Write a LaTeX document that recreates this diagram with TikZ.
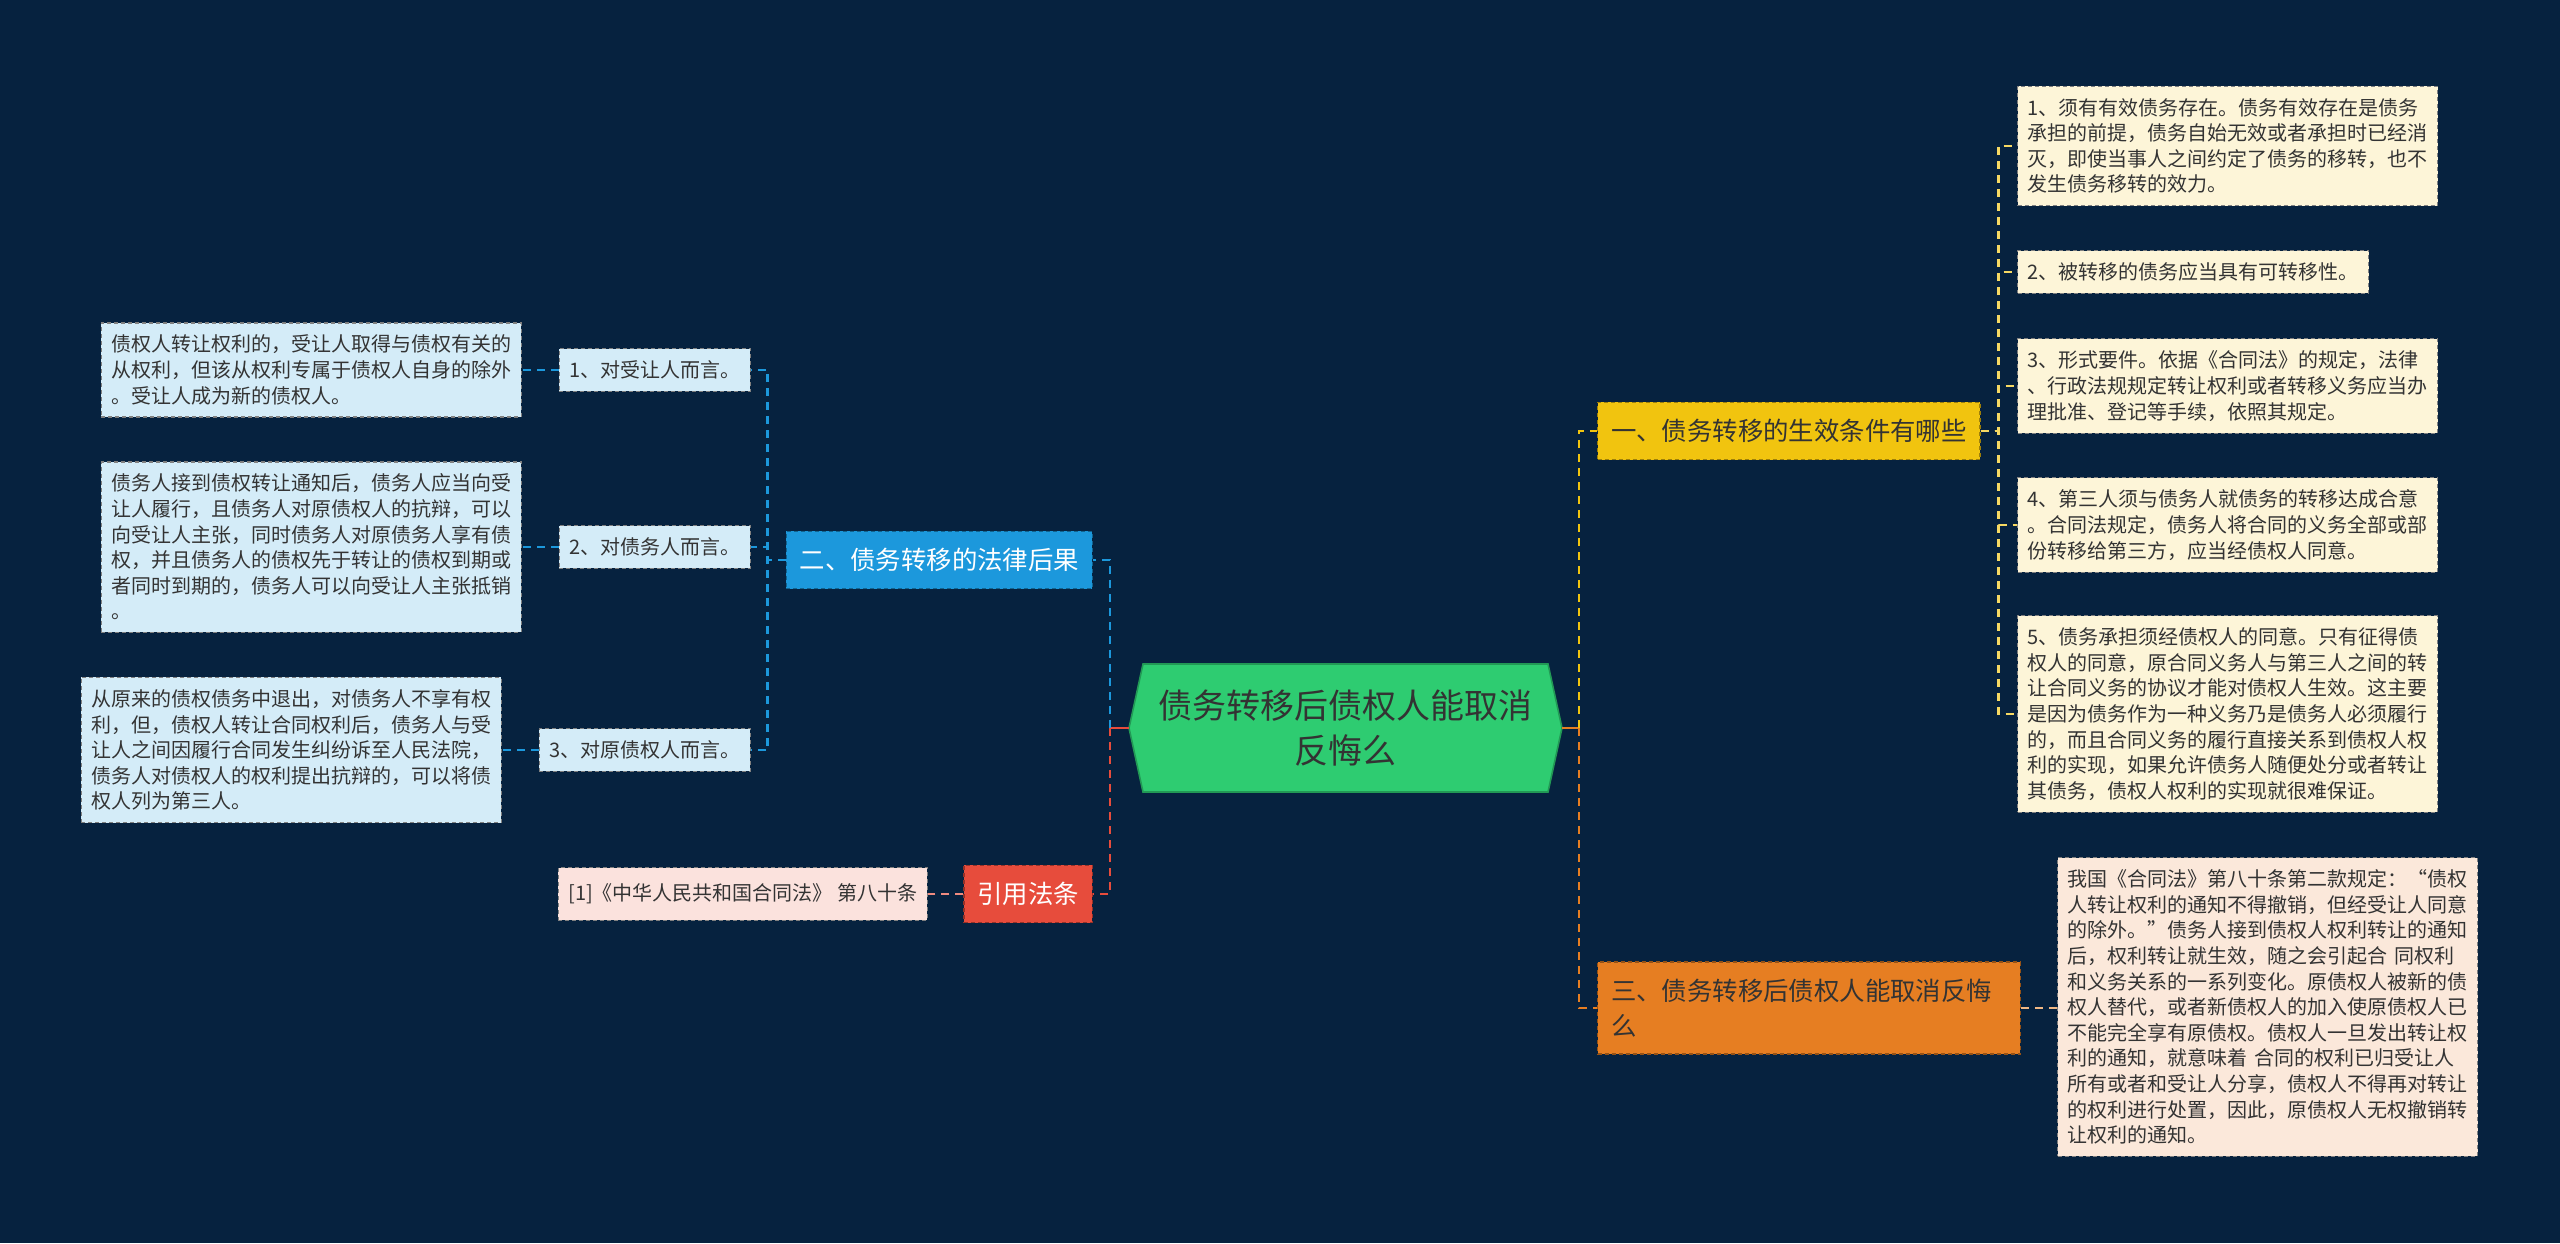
\documentclass[tikz,border=0pt]{standalone}
\usepackage{fontspec}
\setmainfont{Noto Sans CJK SC}
\usepackage{xcolor}
\usepackage{tikz}
\definecolor{mapBg}{HTML}{06223F}
\definecolor{mapHub}{HTML}{2ECC71}
\definecolor{mapYel}{HTML}{F1C40F}
\definecolor{mapOrg}{HTML}{E67E22}
\definecolor{mapBlu}{HTML}{1C98DC}
\definecolor{mapRed}{HTML}{E74C3C}
\definecolor{leafYel}{HTML}{FDF5D8}
\definecolor{leafOrg}{HTML}{FBE8DA}
\definecolor{leafBlu}{HTML}{D4ECF8}
\definecolor{leafRed}{HTML}{FBE2DD}

\begin{document}
\begin{tikzpicture}[x=0.5pt, y=-0.5pt,
    kbox/.style={rectangle, draw=#1!65!black, fill=#1, dash pattern=on 2pt off 1.5pt, line width=0.6pt,
      inner xsep=6.7pt, inner ysep=8.4pt, font=\fontsize{12.7}{17.5}\selectfont, align=left},
    leaf/.style={rectangle, draw=black!50, fill=#1, dash pattern=on 2pt off 1.5pt, line width=0.6pt,
      inner xsep=5pt, inner ysep=6pt, font=\fontsize{10}{12.8}\selectfont, text=black!80, align=left},
    note/.style={leaf=#1, text width=200pt},
    link/.style={dash pattern=on 4pt off 3pt, line width=1.2pt}
  ]
  \fill[mapBg] (0,0) rectangle (2560,1243);
  \useasboundingbox (0,0) rectangle (2560,1243);

  \fill[mapHub, draw=mapHub!75!black, line width=0.8pt] (1129,728) -- (1143,664) -- (1548,664) -- (1562,728)
    -- (1548,792) -- (1143,792) -- cycle;
  \node[minimum width=216.5pt, minimum height=64pt, inner sep=0pt, align=center, text=black!80,
    font=\fontsize{17}{22.5}\selectfont] (hub) at (1345.5,728) {债务转移后债权人能取消\\反悔么};

  \node[kbox=mapYel, text=black!80, anchor=west] (k1) at (1597,431) {一、债务转移的生效条件有哪些};
  \node[kbox=mapOrg, text=black!80, text width=198pt, anchor=west] (k3) at (1597,1008) {三、债务转移后债权人能取消反悔\\么};
  \node[kbox=mapBlu, text=white, anchor=east] (k2) at (1093,560) {二、债务转移的法律后果};
  \node[kbox=mapRed, text=white, anchor=east] (k4) at (1093,894) {引用法条};

  \node[note=leafYel, anchor=west] (r1) at (2017,146) {1、须有有效债务存在。债务有效存在是债务\\承担的前提，债务自始无效或者承担时已经消\\灭，即使当事人之间约定了债务的移转，也不\\发生债务移转的效力。};
  \node[leaf=leafYel, anchor=west] (r2) at (2017,272) {2、被转移的债务应当具有可转移性。};
  \node[note=leafYel, anchor=west] (r3) at (2017,386) {3、形式要件。依据《合同法》的规定，法律\\、行政法规规定转让权利或者转移义务应当办\\理批准、登记等手续，依照其规定。};
  \node[note=leafYel, anchor=west] (r4) at (2017,525) {4、第三人须与债务人就债务的转移达成合意\\。合同法规定，债务人将合同的义务全部或部\\份转移给第三方，应当经债权人同意。};
  \node[note=leafYel, anchor=west] (r5) at (2017,714) {5、债务承担须经债权人的同意。只有征得债\\权人的同意，原合同义务人与第三人之间的转\\让合同义务的协议才能对债权人生效。这主要\\是因为债务作为一种义务乃是债务人必须履行\\的，而且合同义务的履行直接关系到债权人权\\利的实现，如果允许债务人随便处分或者转让\\其债务，债权人权利的实现就很难保证。};
  \node[note=leafOrg, anchor=west] (r6) at (2057,1007) {我国《合同法》第八十条第二款规定：“债权\\人转让权利的通知不得撤销，但经受让人同意\\的除外。”债务人接到债权人权利转让的通知\\后，权利转让就生效，随之会引起合 同权利\\和义务关系的一系列变化。原债权人被新的债\\权人替代，或者新债权人的加入使原债权人已\\不能完全享有原债权。债权人一旦发出转让权\\利的通知，就意味着 合同的权利已归受让人\\所有或者和受让人分享，债权人不得再对转让\\的权利进行处置，因此，原债权人无权撤销转\\让权利的通知。};

  \node[leaf=leafBlu, anchor=east] (s1) at (751,370) {1、对受让人而言。};
  \node[leaf=leafBlu, anchor=east] (s2) at (751,547) {2、对债务人而言。};
  \node[leaf=leafBlu, anchor=east] (s3) at (751,750) {3、对原债权人而言。};
  \node[note=leafBlu, anchor=east] (d1) at (522,370) {债权人转让权利的，受让人取得与债权有关的\\从权利，但该从权利专属于债权人自身的除外\\。受让人成为新的债权人。};
  \node[note=leafBlu, anchor=east] (d2) at (522,547) {债务人接到债权转让通知后，债务人应当向受\\让人履行，且债务人对原债权人的抗辩，可以\\向受让人主张，同时债务人对原债务人享有债\\权，并且债务人的债权先于转让的债权到期或\\者同时到期的，债务人可以向受让人主张抵销\\。};
  \node[note=leafBlu, anchor=east] (d3) at (502,750) {从原来的债权债务中退出，对债务人不享有权\\利，但，债权人转让合同权利后，债务人与受\\让人之间因履行合同发生纠纷诉至人民法院，\\债务人对债权人的权利提出抗辩的，可以将债\\权人列为第三人。};
  \node[leaf=leafRed, inner ysep=8pt, anchor=east] (cite) at (928,894) {[1]《中华人民共和国合同法》 第八十条};

  \coordinate (rj) at (1579,728);
  \coordinate (lj) at (1110,728);
  \draw[mapOrg, line width=1.4pt] (hub.east) -- (rj);
  \draw[mapRed, line width=1.4pt] (hub.west) -- (lj);
  \draw[link, mapYel] (rj) |- (k1.west);
  \draw[link, mapOrg] (rj) |- (k3.west);
  \draw[link, mapBlu] (lj) |- (k2.east);
  \draw[link, mapRed] (lj) |- (k4.east);

  \draw[link, mapYel!65!white] (k1.east) -- ++(18,0) |- (r1.west);
  \draw[link, mapYel!65!white] (k1.east) -- ++(18,0) |- (r2.west);
  \draw[link, mapYel!65!white] (k1.east) -- ++(18,0) |- (r3.west);
  \draw[link, mapYel!65!white] (k1.east) -- ++(18,0) |- (r4.west);
  \draw[link, mapYel!65!white] (k1.east) -- ++(18,0) |- (r5.west);
  \draw[link, mapOrg!55!white] (k3.east) -- (k3.east -| r6.west);

  \draw[link, mapBlu] (k2.west) -- ++(-18,0) |- (s1.east);
  \draw[link, mapBlu] (k2.west) -- ++(-18,0) |- (s2.east);
  \draw[link, mapBlu] (k2.west) -- ++(-18,0) |- (s3.east);
  \draw[link, mapBlu] (s1.west) -- (d1.east);
  \draw[link, mapBlu] (s2.west) -- (d2.east);
  \draw[link, mapBlu] (s3.west) -- (d3.east);
  \draw[link, mapRed!65!white] (k4.west) -- (cite.east);
\end{tikzpicture}
\end{document}
